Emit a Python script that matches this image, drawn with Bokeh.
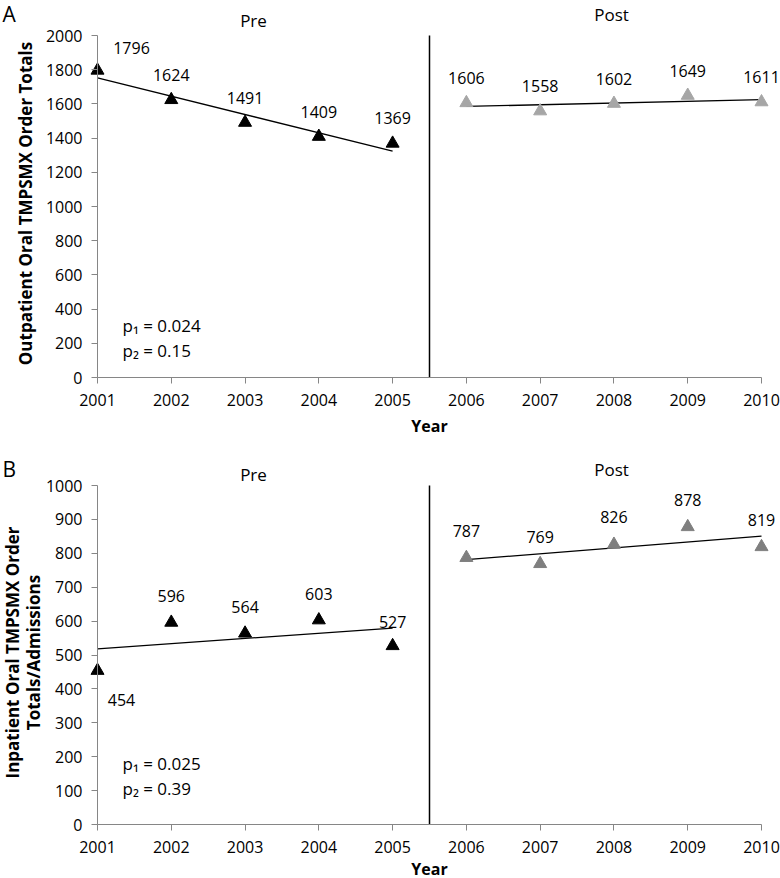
import numpy as np
from bokeh.plotting import figure
from bokeh.layouts import column
from bokeh.models import (ColumnDataSource, LabelSet, Label, Range1d,
                          FixedTicker)
from bokeh.core.properties import value
from bokeh.embed import file_html
from bokeh.resources import INLINE

# ---------------- data ----------------
years_pre = [2001, 2002, 2003, 2004, 2005]
years_post = [2006, 2007, 2008, 2009, 2010]
outpatient_pre = [1796, 1624, 1491, 1409, 1369]
outpatient_post = [1606, 1558, 1602, 1649, 1611]
inpatient_pre = [454, 596, 564, 603, 527]
inpatient_post = [787, 769, 826, 878, 819]
x_ticks = [2001, 2002, 2003, 2004, 2005, 2006, 2007, 2008, 2009, 2010]
y_ticks_top = [0, 200, 400, 600, 800, 1000, 1200, 1400, 1600, 1800, 2000]
y_ticks_bottom = [0, 100, 200, 300, 400, 500, 600, 700, 800, 900, 1000]
p_top = ["p\u2081 = 0.024", "p\u2082 = 0.15"]
p_bottom = ["p\u2081 = 0.025", "p\u2082 = 0.39"]
divider_year = 2005.5

# ---------------- layout constants (page pixels) ----------------
FONT = "Open Sans"
W = 780
X0_PAGE, X1_PAGE = 97, 761          # page x of 2001 and 2010
PPY = (X1_PAGE - X0_PAGE) / 9.0

H1 = 445
TOP_FRAME = (35, 377)               # page y of 2000 / 0
H2 = 433
BOT_FRAME = (485, 824)              # page y of 1000 / 0


def xd(px):
    return 2001 + (px - X0_PAGE) / PPY


def yconv(frame, y_max):
    ftop, fbot = frame
    return lambda py: (fbot - py) * y_max / (fbot - ftop)


def make_fig(height, fig_top_page, frame, y_ticks):
    y_max = y_ticks[-1]
    yc = yconv(frame, y_max)
    p = figure(width=W, height=height, output_backend="svg",
               toolbar_location=None,
               x_range=Range1d(xd(0), xd(W)),
               y_range=Range1d(yc(fig_top_page + height), yc(fig_top_page)),
               min_border=0)
    p.outline_line_color = None
    p.grid.visible = False
    p.background_fill_color = "white"
    p.border_fill_color = "white"

    xa = p.xaxis[0]
    xa.fixed_location = y_ticks[0]
    xa.ticker = FixedTicker(ticks=x_ticks)
    xa.bounds = (x_ticks[0], x_ticks[-1])
    xa.axis_line_color = "#868686"
    xa.major_tick_line_color = "#868686"
    xa.major_tick_out = 6
    xa.major_tick_in = 0
    xa.minor_tick_line_color = None
    xa.major_label_standoff = 10
    xa.major_label_text_font = FONT
    xa.major_label_text_font_size = "16px"
    xa.major_label_text_color = "black"

    ya = p.yaxis[0]
    ya.fixed_location = x_ticks[0]
    ya.ticker = FixedTicker(ticks=y_ticks)
    ya.bounds = (y_ticks[0], y_ticks[-1])
    ya.axis_line_color = "#868686"
    ya.major_tick_line_color = "#868686"
    ya.major_tick_out = 6
    ya.major_tick_in = 0
    ya.minor_tick_line_color = None
    ya.major_label_standoff = 9
    ya.major_label_text_font = FONT
    ya.major_label_text_font_size = "16px"
    ya.major_label_text_color = "black"

    p.segment(x0=[divider_year], y0=[y_ticks[0]], x1=[divider_year],
              y1=[y_ticks[-1]], line_color="black", line_width=1.5)
    return p, yc


def add_text(p, x, y, text, size="16px", bold=False, align="center",
             angle=0.0):
    p.add_layout(Label(x=x, y=y, text=text, text_font=FONT,
                       text_font_size=size,
                       text_font_style="bold" if bold else "normal",
                       text_align=align, text_baseline="middle",
                       text_color="black", angle=angle))


def add_series(p, xs, ys, color, x_off, y_off):
    src = ColumnDataSource(dict(x=xs, y=ys, t=[str(v) for v in ys],
                                xo=x_off, yo=y_off))
    coef = np.polyfit(np.array(xs, float), np.array(ys, float), 1)
    fit_x = [xs[0], xs[-1]]
    fit_y = list(np.polyval(coef, fit_x))
    p.line(fit_x, fit_y, line_color="black", line_width=1.3)
    p.scatter("x", "y", source=src, marker="triangle", size=13,
              fill_color=color, line_color=color)
    p.add_layout(LabelSet(x="x", y="y", text="t", source=src,
                          x_offset="xo", y_offset="yo",
                          text_font=value(FONT), text_font_size=value("16px"),
                          text_align="center", text_baseline="middle",
                          text_color="black"))


# ---------------- panel A ----------------
top, yt = make_fig(H1, 0, TOP_FRAME, y_ticks_top)
add_series(top, years_pre, outpatient_pre, "black",
           [34, 0, 0, 0, 0], [22, 25, 25, 25, 25])
add_series(top, years_post, outpatient_post, "#a6a6a6",
           [0, 0, 0, 0, 0], [25, 25, 25, 25, 25])
add_text(top, xd(2), yt(13), "A", size="21px", align="left")
add_text(top, xd(253), yt(20), "Pre", size="17px")
add_text(top, xd(611), yt(14), "Post", size="17px")
add_text(top, xd(429), yt(425), "Year", size="16px", bold=True)
add_text(top, xd(122), yt(325), p_top[0], size="17px", align="left")
add_text(top, xd(122), yt(350), p_top[1], size="17px", align="left")
add_text(top, xd(25), yt(203), "Outpatient Oral TMPSMX Order Totals",
         size="17px", bold=True, angle=np.pi / 2)

# ---------------- panel B ----------------
bot, yb = make_fig(H2, H1, BOT_FRAME, y_ticks_bottom)
add_series(bot, years_pre, inpatient_pre, "black",
           [24, 0, 0, 0, 0], [-29, 26, 26, 26, 24])
add_series(bot, years_post, inpatient_post, "#7f7f7f",
           [0, 0, 0, 0, 0], [27, 27, 27, 27, 27])
add_text(bot, xd(2), yb(468), "B", size="21px", align="left")
add_text(bot, xd(253), yb(474), "Pre", size="17px")
add_text(bot, xd(611), yb(469), "Post", size="17px")
add_text(bot, xd(429), yb(868), "Year", size="16px", bold=True)
add_text(bot, xd(122), yb(763), p_bottom[0], size="17px", align="left")
add_text(bot, xd(122), yb(788), p_bottom[1], size="17px", align="left")
add_text(bot, xd(12), yb(652), "Inpatient Oral TMPSMX Order",
         size="17px", bold=True, angle=np.pi / 2)
add_text(bot, xd(33), yb(652), "Totals/Admissions",
         size="17px", bold=True, angle=np.pi / 2)

layout = column(top, bot, spacing=0)
open("out.html", "w").write(file_html(layout, INLINE))
